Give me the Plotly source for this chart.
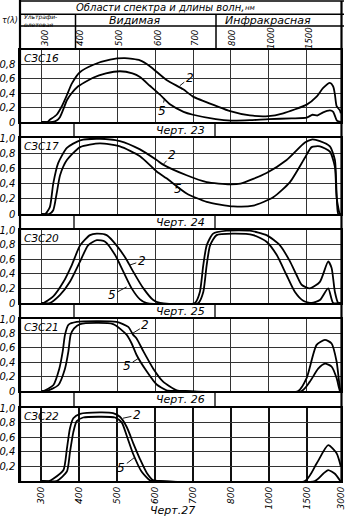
import numpy as np
import plotly.graph_objects as go

W, H = 345, 527
FONT = "DejaVu Sans"

# ---- wavelength scale (nm) and tick labels ----
tick_wl = [300, 400, 500, 600, 700, 800, 1000, 1500, 3000]
tick_labels = ["300", "400", "500", "600", "700", "800", "1000", "1500", "3000"]
tick_pos = [0, 1, 2, 3, 4, 5, 6, 7, 7.9]

glass_names = ["СЗС16", "СЗС17", "СЗС20", "СЗС21", "СЗС22"]
drawing_names = ["Черт. 23", "Черт. 24", "Черт. 25", "Черт. 26", "Черт.27"]

y_vals = [0, 0.2, 0.4, 0.6, 0.8, 1.0]
y_text = ["0", "0,2", "0,4", "0,6", "0,8", "1,0"]

# ---- transmission curves: thickness 2 mm ("2") and 5 mm ("5") ----
s16_2_wl = [300, 315, 322, 340, 353, 367, 380, 402, 437, 481, 520, 560, 586, 630, 674, 700, 762, 798, 900, 997, 1190, 1500, 1935, 2225, 2520, 2665, 2740, 2815, 2960, 3000]
s16_2_t = [0, 0, 0.03, 0.1, 0.21, 0.37, 0.53, 0.69, 0.79, 0.86, 0.88, 0.85, 0.77, 0.58, 0.45, 0.35, 0.22, 0.15, 0.09, 0.08, 0.12, 0.24, 0.35, 0.47, 0.54, 0.49, 0.38, 0.22, 0.16, 0.12]
s16_5_wl = [300, 330, 340, 349, 358, 367, 380, 394, 436, 470, 507, 540, 560, 586, 612, 640, 675, 700, 760, 800, 900, 1000, 1300, 1500, 1755, 1975, 2200, 2520, 2665, 2830, 3000]
s16_5_t = [0, 0, 0.02, 0.07, 0.18, 0.30, 0.40, 0.48, 0.61, 0.67, 0.70, 0.67, 0.62, 0.50, 0.38, 0.24, 0.14, 0.10, 0.04, 0.02, 0.025, 0.04, 0.05, 0.06, 0.10, 0.09, 0.13, 0.16, 0.14, 0.02, 0]

s17_2_wl = [300, 310, 322, 331, 344, 367, 402, 454, 507, 560, 604, 621, 683, 736, 797, 850, 988, 1235, 1476, 1715, 2080, 2520, 2740, 2815, 2885, 3000]
s17_2_t = [0, 0, 0.09, 0.40, 0.67, 0.87, 0.97, 0.99, 0.96, 0.85, 0.71, 0.65, 0.51, 0.42, 0.39, 0.40, 0.54, 0.71, 0.94, 0.98, 0.96, 0.89, 0.71, 0.27, 0, 0]
s17_5_wl = [300, 320, 331, 340, 349, 367, 402, 454, 507, 560, 604, 630, 683, 736, 812, 918, 1058, 1279, 1476, 1715, 2080, 2520, 2740, 2815, 2960, 3000]
s17_5_t = [0, 0, 0.05, 0.27, 0.51, 0.71, 0.88, 0.93, 0.89, 0.76, 0.56, 0.47, 0.27, 0.16, 0.10, 0.11, 0.22, 0.42, 0.74, 0.88, 0.89, 0.82, 0.62, 0.22, 0, 0]

s20_2_wl = [300, 305, 331, 358, 380, 402, 428, 446, 472, 498, 525, 542, 569, 595, 613, 705, 718, 727, 736, 753, 789, 900, 988, 1147, 1279, 1367, 1433, 1640, 2080, 2445, 2595, 2740, 2885, 3000]
s20_2_t = [0, 0, 0.09, 0.29, 0.52, 0.79, 0.93, 0.95, 0.93, 0.79, 0.59, 0.43, 0.20, 0.04, 0, 0, 0.15, 0.52, 0.79, 0.95, 0.99, 0.99, 0.93, 0.79, 0.57, 0.38, 0.25, 0.20, 0.29, 0.57, 0.48, 0.15, 0, 0]
s20_5_wl = [300, 322, 349, 375, 402, 423, 446, 468, 494, 516, 538, 560, 578, 714, 727, 736, 745, 762, 812, 918, 988, 1103, 1235, 1345, 1454, 1715, 2080, 2445, 2665, 3000]
s20_5_t = [0, 0, 0.11, 0.29, 0.57, 0.79, 0.86, 0.84, 0.66, 0.43, 0.20, 0.05, 0, 0, 0.15, 0.52, 0.79, 0.93, 0.95, 0.93, 0.84, 0.66, 0.38, 0.15, 0.03, 0, 0.04, 0.20, 0, 0]

s21_2_wl = [300, 305, 331, 347, 356, 362, 371, 393, 498, 529, 542, 551, 569, 595, 621, 657, 680, 1388, 1499, 1935, 2300, 2595, 2815, 2960, 3000]
s21_2_t = [0, 0, 0.08, 0.31, 0.55, 0.78, 0.92, 0.96, 0.96, 0.89, 0.78, 0.73, 0.55, 0.31, 0.13, 0.01, 0, 0, 0.18, 0.64, 0.71, 0.66, 0.41, 0.04, 0]
s21_5_wl = [300, 314, 344, 362, 371, 377, 386, 402, 489, 525, 538, 551, 578, 604, 630, 650, 1433, 1640, 2005, 2300, 2595, 2815, 2960, 3000]
s21_5_t = [0, 0, 0.08, 0.31, 0.55, 0.78, 0.87, 0.93, 0.93, 0.78, 0.66, 0.50, 0.27, 0.09, 0.01, 0, 0, 0.13, 0.31, 0.38, 0.34, 0.18, 0, 0]

s22_2_wl = [300, 320, 331, 358, 367, 375, 384, 402, 454, 489, 507, 525, 542, 560, 578, 595, 610, 1476, 1935, 2445, 2815, 3000]
s22_2_t = [0, 0, 0.03, 0.15, 0.44, 0.72, 0.86, 0.92, 0.94, 0.93, 0.88, 0.74, 0.52, 0.30, 0.11, 0.01, 0, 0, 0.24, 0.49, 0.38, 0.2]
s22_5_wl = [300, 340, 367, 375, 384, 393, 410, 454, 494, 512, 525, 542, 564, 586, 600, 1860, 2225, 2445, 2740, 2960, 3000]
s22_5_t = [0, 0, 0.13, 0.39, 0.67, 0.82, 0.87, 0.88, 0.87, 0.80, 0.62, 0.37, 0.13, 0.01, 0, 0, 0.10, 0.15, 0.10, 0.01, 0]

curves = [
    (s16_2_wl, s16_2_t, s16_5_wl, s16_5_t),
    (s17_2_wl, s17_2_t, s17_5_wl, s17_5_t),
    (s20_2_wl, s20_2_t, s20_5_wl, s20_5_t),
    (s21_2_wl, s21_2_t, s21_5_wl, s21_5_t),
    (s22_2_wl, s22_2_t, s22_5_wl, s22_5_t),
]

# curve-label anchors (wavelength, T) and text offsets in px
label2 = [((665, 0.50), (10, -8)), ((621, 0.65), (9, -10)), ((533, 0.52), (12, -4)), ((540, 0.80), (13, -8)), ((515, 0.86), (14, -3))]
label5 = [((625, 0.33), (-3, 13)), ((640, 0.43), (8, 8)), ((525, 0.22), (-15, 8)), ((555, 0.45), (-11, 7)), ((545, 0.32), (-13, 10))]

# ---- layout geometry (pixels) ----
panel_px = [(49.5, 122), (138, 214), (230, 303), (319, 391), (408, 481)]
X_LEFT, X_RIGHT = 19.5, 341.0
x_range = [(X_LEFT - 41.5) / 37.9, 7.905]


def px(v):
    return v / W


def py(v):
    return 1 - v / H


def to_pos(wl):
    return np.interp(np.asarray(wl, dtype=float), tick_wl, tick_pos)


fig = go.Figure()
layout = dict(width=W, height=H, margin=dict(l=0, r=0, t=0, b=0),
              paper_bgcolor="white", plot_bgcolor="white", showlegend=False)

annotations = []
shapes = []
ital = dict(family=FONT, color="black", style="italic")

for i, (top, bot) in enumerate(panel_px):
    k = "" if i == 0 else str(i + 1)
    last = i == len(panel_px) - 1
    layout["xaxis" + k] = dict(
        domain=[px(X_LEFT), px(X_RIGHT)], range=x_range, anchor="y" + k,
        tickvals=tick_pos, ticktext=tick_labels, showticklabels=last,
        tickangle=-90, ticks="", tickfont=dict(ital, size=9), automargin=False,
        ticklabeloverflow="allow",
        showgrid=True, gridcolor="#111" if last else "#333",
        gridwidth=2.4 if last else 1.2,
        showline=True, mirror=True, linecolor="black", linewidth=2.2,
        zeroline=False, fixedrange=True)
    tv = [v for v in y_vals if not (i == 0 and v == 1.0) and not (last and v == 0)]
    tt = [t for v, t in zip(y_vals, y_text) if not (i == 0 and v == 1.0) and not (last and v == 0)]
    layout["yaxis" + k] = dict(
        domain=[py(bot), py(top)], range=[0, 1], anchor="x" + k,
        tickvals=tv, ticktext=tt, ticks="", tickfont=dict(ital, size=10), automargin=False,
        showgrid=True, gridcolor="#333", gridwidth=1.0,
        showline=True, mirror=True, linecolor="black", linewidth=2.2,
        zeroline=False, fixedrange=True)

    wl2, t2, wl5, t5 = curves[i]
    for wl, t in ((wl2, t2), (wl5, t5)):
        fig.add_trace(go.Scatter(x=to_pos(wl), y=t, mode="lines", xaxis="x" + k, yaxis="y" + k,
                                 line=dict(color="black", width=1.8, shape="spline", smoothing=0.6),
                                 hoverinfo="skip"))

    # glass name
    annotations.append(dict(x=px(22), y=py(top + 8), text=glass_names[i],
                            xanchor="left", font=dict(ital, size=10.5)))
    # curve labels
    for txt, ((lw, lt), (ax, ay)) in (("2", label2[i]), ("5", label5[i])):
        annotations.append(dict(x=float(to_pos([lw])[0]), y=lt, xref="x" + k, yref="y" + k, text=txt,
                                showarrow=True, arrowhead=0, arrowwidth=0.9, arrowcolor="black",
                                ax=ax, ay=ay, standoff=0, font=dict(ital, size=12)))

    # strip with drawing number below each panel
    if not last:
        nxt_top = panel_px[i + 1][0]
        mid = (bot + nxt_top) / 2
        annotations.append(dict(x=px(180), y=py(mid), text=drawing_names[i], font=dict(ital, size=11)))
        for xv in (74, 215):
            shapes.append(dict(type="line", xref="paper", yref="paper", x0=px(xv), x1=px(xv),
                               y0=py(bot), y1=py(nxt_top), line=dict(color="black", width=1.3)))

# caption under the last drawing
annotations.append(dict(x=px(172), y=py(510), text=drawing_names[-1], font=dict(ital, size=11)))

# ---- header table ----
hl = dict(color="black", width=1.5)
for yv in (1, 14.3, 26):
    shapes.append(dict(type="line", xref="paper", yref="paper", x0=px(20), x1=px(344), y0=py(yv), y1=py(yv), line=hl))
for xv in (75.5, 216):
    shapes.append(dict(type="line", xref="paper", yref="paper", x0=px(xv), x1=px(xv), y0=py(14.3), y1=py(49.5), line=hl))
shapes.append(dict(type="line", xref="paper", yref="paper", x0=px(20), x1=px(20), y0=py(0), y1=py(481), line=dict(color="black", width=2.2)))
shapes.append(dict(type="line", xref="paper", yref="paper", x0=px(341.5), x1=px(341.5), y0=py(1), y1=py(481), line=dict(color="black", width=2.2)))

annotations += [
    dict(x=px(160), y=py(7.5), text="Области спектра и длины волн,", font=dict(ital, size=10)),
    dict(x=px(251), y=py(7.5), text="нм", font=dict(ital, size=7)),
    dict(x=px(9.5), y=py(20), text="τ(λ)", font=dict(ital, size=8)),
    dict(x=px(22), y=py(17.4), text="Ультрафи-", xanchor="left", font=dict(ital, size=6)),
    dict(x=px(22), y=py(24.6), text="олетовая", xanchor="left", font=dict(ital, size=6)),
    dict(x=px(134), y=py(20.5), text="Видимая", font=dict(ital, size=11)),
    dict(x=px(268), y=py(20.5), text="Инфракрасная", font=dict(ital, size=11)),
]
head_x = [45, 80, 119, 158, 195, 232, 271, 309]
for lab, hx in zip(tick_labels[:-1], head_x):
    annotations.append(dict(x=px(hx), y=py(38), text=lab, textangle=-90, font=dict(ital, size=8.5)))

for a in annotations:
    a.setdefault("xref", "paper")
    a.setdefault("yref", "paper")
    a.setdefault("showarrow", False)
    a.setdefault("xanchor", "center")
    a.setdefault("yanchor", "middle")

layout["annotations"] = annotations
layout["shapes"] = shapes
fig.update_layout(**layout)
fig.write_html("out.html")
